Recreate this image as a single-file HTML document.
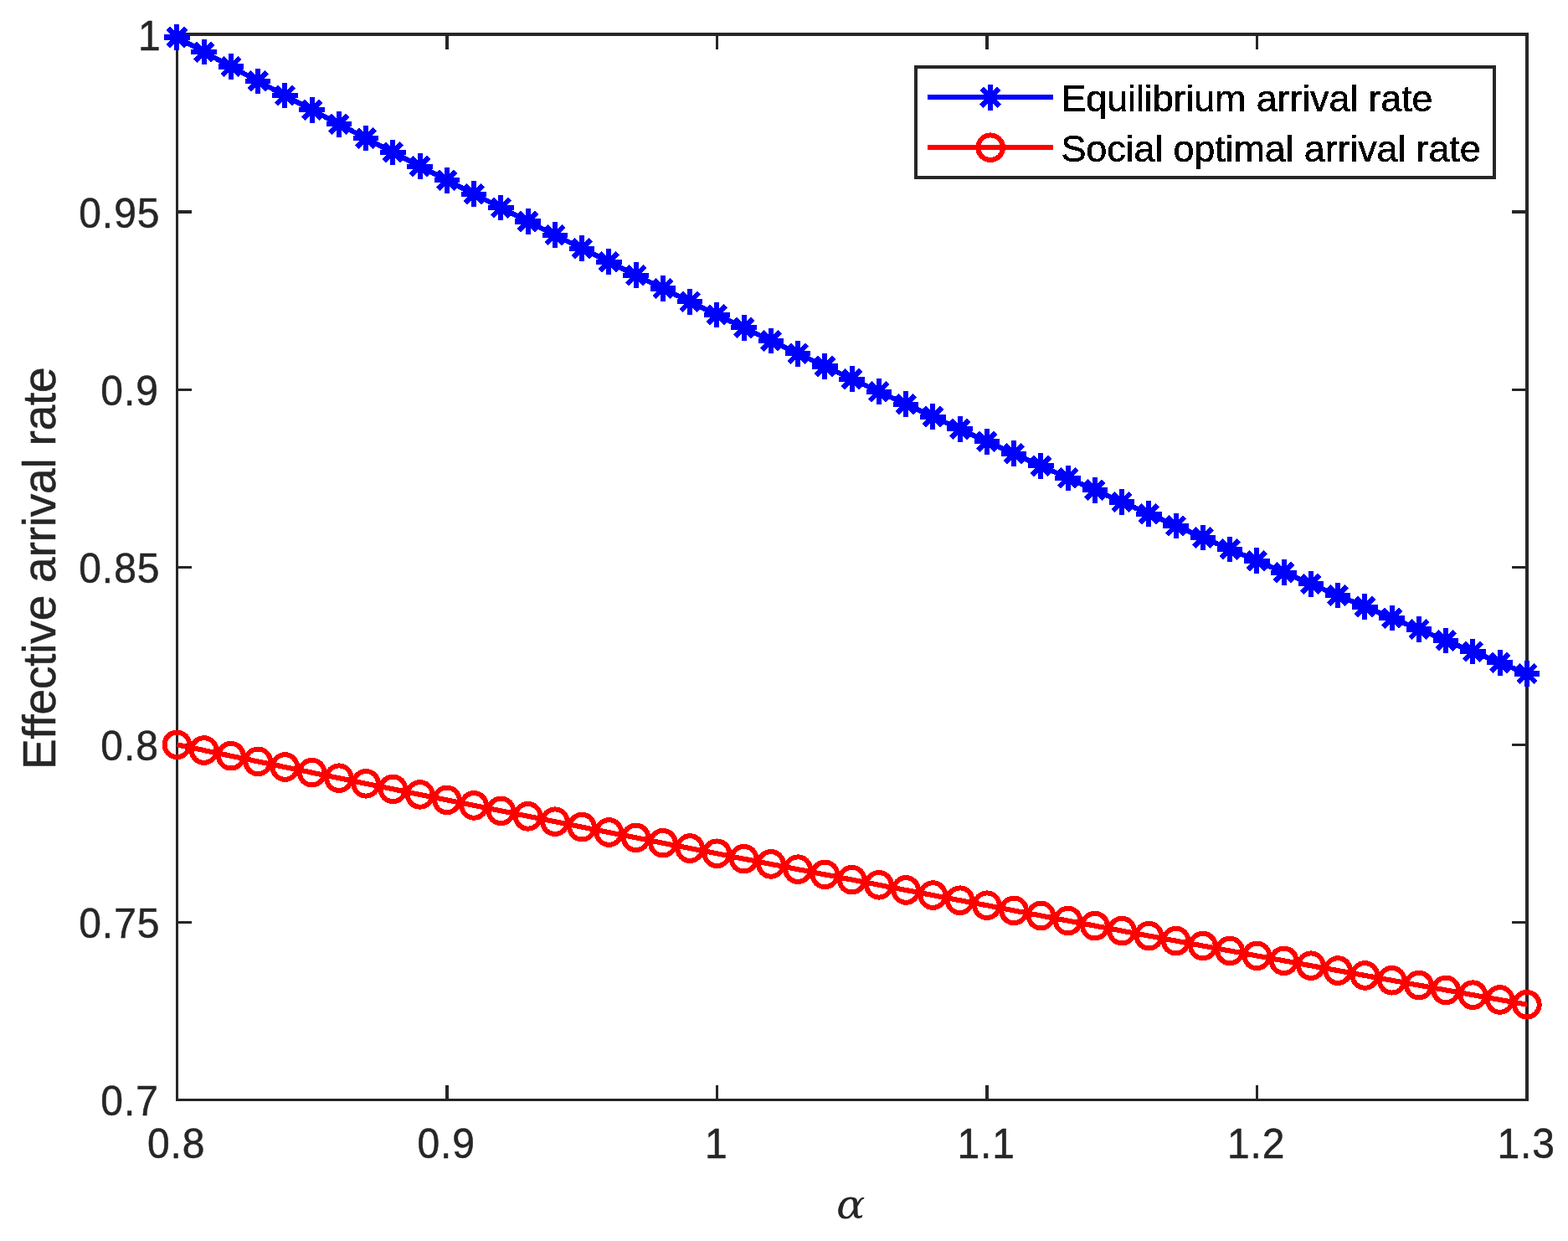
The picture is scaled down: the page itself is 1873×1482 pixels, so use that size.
<!DOCTYPE html>
<html lang="en">
<head>
<meta charset="utf-8">
<title>Effective arrival rate versus alpha</title>
<style>
html,body{margin:0;padding:0;background:#fff;}
body{width:1873px;height:1482px;overflow:hidden;}
svg{display:block;}
.t{font-family:"Liberation Sans",sans-serif;fill:#262626;}
.tk{font-size:50px;letter-spacing:1px;stroke:#262626;stroke-width:0.5;}
.lb{font-size:55px;letter-spacing:-0.2px;stroke:#262626;stroke-width:0.5;}
.lg{font-size:45px;fill:#000;letter-spacing:-0.155px;}
.al{font-family:"DejaVu Serif","Liberation Serif",serif;font-style:italic;font-size:47.6px;fill:#262626;}
.ax{fill:#262626;}
.b{stroke:#0000ff;fill:none;stroke-width:6.1;}
.r{stroke:#ff0000;fill:none;stroke-width:6.1;}
</style>
</head>
<body>
<svg width="1873" height="1482" viewBox="0 0 1873 1482">
<rect width="1873" height="1482" fill="#ffffff"/>
<defs>
<path id="a" class="b" d="M0 -15.3 V15.3 M-15.3 0 H15.3 M-10.61 -10.61 L10.61 10.61 M-10.61 10.61 L10.61 -10.61"/>
<circle id="c" r="14.8" fill="none" stroke="#ff0000" stroke-width="6"/>
<filter id="bw" x="-2%" y="-20%" width="104%" height="140%" color-interpolation-filters="sRGB"><feComponentTransfer><feFuncA type="discrete" tableValues="0 1 1 1 1"/></feComponentTransfer></filter>
</defs>
<g class="ax" shape-rendering="crispEdges">
<rect x="210" y="39" width="3" height="1276"/>
<rect x="1822" y="39" width="4" height="1276"/>
<rect x="210" y="39" width="1616" height="4"/>
<rect x="210" y="1312" width="1616" height="3"/>
<rect x="532" y="1296" width="4" height="16"/>
<rect x="532" y="43" width="4" height="16"/>
<rect x="855" y="1296" width="3" height="16"/>
<rect x="855" y="43" width="3" height="16"/>
<rect x="1177" y="1296" width="4" height="16"/>
<rect x="1177" y="43" width="4" height="16"/>
<rect x="1500" y="1296" width="3" height="16"/>
<rect x="1500" y="43" width="3" height="16"/>
<rect x="213" y="251" width="16" height="4"/>
<rect x="1806" y="251" width="16" height="4"/>
<rect x="213" y="464" width="16" height="3"/>
<rect x="1806" y="464" width="16" height="3"/>
<rect x="213" y="676" width="16" height="3"/>
<rect x="1806" y="676" width="16" height="3"/>
<rect x="213" y="888" width="16" height="3"/>
<rect x="1806" y="888" width="16" height="3"/>
<rect x="213" y="1100" width="16" height="3"/>
<rect x="1806" y="1100" width="16" height="3"/>
</g>
<g class="t tk" text-anchor="middle">
<text transform="translate(210.7 1382.7) scale(0.96 1)">0.8</text>
<text transform="translate(533.2 1382.7) scale(0.96 1)">0.9</text>
<text transform="translate(855.7 1382.7) scale(0.96 1)">1</text>
<text transform="translate(1178.2 1382.7) scale(0.96 1)">1.1</text>
<text transform="translate(1500.7 1382.7) scale(0.96 1)">1.2</text>
<text transform="translate(1823.2 1382.7) scale(0.96 1)">1.3</text>
</g>
<g class="t tk" text-anchor="end">
<text transform="translate(192.55 59.9) scale(0.96 1)">1</text>
<text transform="translate(191.45 271.9) scale(0.96 1)">0.95</text>
<text transform="translate(189.85 484) scale(0.96 1)">0.9</text>
<text transform="translate(191.45 696) scale(0.96 1)">0.85</text>
<text transform="translate(189.85 908) scale(0.96 1)">0.8</text>
<text transform="translate(191.45 1120) scale(0.96 1)">0.75</text>
<text transform="translate(189.85 1332) scale(0.96 1)">0.7</text>
</g>
<text class="t lb" text-anchor="middle" transform="translate(66 678.8) rotate(-90)">Effective arrival rate</text>
<text class="al" text-anchor="middle" transform="translate(1016.3 1455.2) scale(1.07 1)">α</text>
<g shape-rendering="crispEdges">
<polyline class="b" stroke-linejoin="round" points="211.4,44.53 243.65,62.07 275.9,79.51 308.15,96.84 340.4,114.06 372.65,131.25 404.9,148.26 437.15,165.11 469.4,181.92 501.65,198.63 533.9,215.23 566.15,231.74 598.4,248.14 630.65,264.45 662.9,280.66 695.15,296.77 727.4,312.78 759.65,328.69 791.9,344.51 824.15,360.24 856.4,375.87 888.65,391.41 920.9,406.85 953.15,422.21 985.4,437.47 1017.65,452.64 1049.9,467.72 1082.15,482.71 1114.4,497.62 1146.65,512.43 1178.9,527.26 1211.15,541.8 1243.4,556.36 1275.65,570.83 1307.9,585.21 1340.15,599.52 1372.4,613.74 1404.65,627.88 1436.9,641.93 1469.15,655.91 1501.4,669.74 1533.65,683.62 1565.9,697.36 1598.15,711.02 1630.4,724.6 1662.65,738.11 1694.9,751.54 1727.15,764.9 1759.4,778.18 1791.65,791.39 1823.9,804.52"/>
<g><use href="#a" x="211.4" y="44.53"/><use href="#a" x="243.65" y="62.07"/><use href="#a" x="275.9" y="79.51"/><use href="#a" x="308.15" y="96.84"/><use href="#a" x="340.4" y="114.06"/><use href="#a" x="372.65" y="131.25"/><use href="#a" x="404.9" y="148.26"/><use href="#a" x="437.15" y="165.11"/><use href="#a" x="469.4" y="181.92"/><use href="#a" x="501.65" y="198.63"/><use href="#a" x="533.9" y="215.23"/><use href="#a" x="566.15" y="231.74"/><use href="#a" x="598.4" y="248.14"/><use href="#a" x="630.65" y="264.45"/><use href="#a" x="662.9" y="280.66"/><use href="#a" x="695.15" y="296.77"/><use href="#a" x="727.4" y="312.78"/><use href="#a" x="759.65" y="328.69"/><use href="#a" x="791.9" y="344.51"/><use href="#a" x="824.15" y="360.24"/><use href="#a" x="856.4" y="375.87"/><use href="#a" x="888.65" y="391.41"/><use href="#a" x="920.9" y="406.85"/><use href="#a" x="953.15" y="422.21"/><use href="#a" x="985.4" y="437.47"/><use href="#a" x="1017.65" y="452.64"/><use href="#a" x="1049.9" y="467.72"/><use href="#a" x="1082.15" y="482.71"/><use href="#a" x="1114.4" y="497.62"/><use href="#a" x="1146.65" y="512.43"/><use href="#a" x="1178.9" y="527.26"/><use href="#a" x="1211.15" y="541.8"/><use href="#a" x="1243.4" y="556.36"/><use href="#a" x="1275.65" y="570.83"/><use href="#a" x="1307.9" y="585.21"/><use href="#a" x="1340.15" y="599.52"/><use href="#a" x="1372.4" y="613.74"/><use href="#a" x="1404.65" y="627.88"/><use href="#a" x="1436.9" y="641.93"/><use href="#a" x="1469.15" y="655.91"/><use href="#a" x="1501.4" y="669.74"/><use href="#a" x="1533.65" y="683.62"/><use href="#a" x="1565.9" y="697.36"/><use href="#a" x="1598.15" y="711.02"/><use href="#a" x="1630.4" y="724.6"/><use href="#a" x="1662.65" y="738.11"/><use href="#a" x="1694.9" y="751.54"/><use href="#a" x="1727.15" y="764.9"/><use href="#a" x="1759.4" y="778.18"/><use href="#a" x="1791.65" y="791.39"/><use href="#a" x="1823.9" y="804.52"/></g>
<polyline class="r" stroke-linejoin="round" points="211.4,889.33 243.65,896.04 275.9,902.72 308.15,909.38 340.4,916.02 372.65,922.63 404.9,929.23 437.15,935.8 469.4,942.36 501.65,948.89 533.9,955.4 566.15,961.89 598.4,968.36 630.65,974.81 662.9,981.23 695.15,987.64 727.4,994.03 759.65,1000.39 791.9,1006.74 824.15,1013.06 856.4,1019.24 888.65,1025.66 920.9,1031.92 953.15,1038.17 985.4,1044.39 1017.65,1050.6 1049.9,1056.79 1082.15,1062.96 1114.4,1069.1 1146.65,1075.23 1178.9,1081.24 1211.15,1087.43 1243.4,1093.51 1275.65,1099.56 1307.9,1105.6 1340.15,1111.61 1372.4,1117.61 1404.65,1123.59 1436.9,1129.55 1469.15,1135.49 1501.4,1141.42 1533.65,1147.32 1565.9,1153.21 1598.15,1159.08 1630.4,1164.94 1662.65,1170.77 1694.9,1176.59 1727.15,1182.39 1759.4,1188.18 1791.65,1193.94 1823.9,1199.69"/>
<g><use href="#c" x="211.4" y="889.33"/><use href="#c" x="243.65" y="896.04"/><use href="#c" x="275.9" y="902.72"/><use href="#c" x="308.15" y="909.38"/><use href="#c" x="340.4" y="916.02"/><use href="#c" x="372.65" y="922.63"/><use href="#c" x="404.9" y="929.23"/><use href="#c" x="437.15" y="935.8"/><use href="#c" x="469.4" y="942.36"/><use href="#c" x="501.65" y="948.89"/><use href="#c" x="533.9" y="955.4"/><use href="#c" x="566.15" y="961.89"/><use href="#c" x="598.4" y="968.36"/><use href="#c" x="630.65" y="974.81"/><use href="#c" x="662.9" y="981.23"/><use href="#c" x="695.15" y="987.64"/><use href="#c" x="727.4" y="994.03"/><use href="#c" x="759.65" y="1000.39"/><use href="#c" x="791.9" y="1006.74"/><use href="#c" x="824.15" y="1013.06"/><use href="#c" x="856.4" y="1019.24"/><use href="#c" x="888.65" y="1025.66"/><use href="#c" x="920.9" y="1031.92"/><use href="#c" x="953.15" y="1038.17"/><use href="#c" x="985.4" y="1044.39"/><use href="#c" x="1017.65" y="1050.6"/><use href="#c" x="1049.9" y="1056.79"/><use href="#c" x="1082.15" y="1062.96"/><use href="#c" x="1114.4" y="1069.1"/><use href="#c" x="1146.65" y="1075.23"/><use href="#c" x="1178.9" y="1081.24"/><use href="#c" x="1211.15" y="1087.43"/><use href="#c" x="1243.4" y="1093.51"/><use href="#c" x="1275.65" y="1099.56"/><use href="#c" x="1307.9" y="1105.6"/><use href="#c" x="1340.15" y="1111.61"/><use href="#c" x="1372.4" y="1117.61"/><use href="#c" x="1404.65" y="1123.59"/><use href="#c" x="1436.9" y="1129.55"/><use href="#c" x="1469.15" y="1135.49"/><use href="#c" x="1501.4" y="1141.42"/><use href="#c" x="1533.65" y="1147.32"/><use href="#c" x="1565.9" y="1153.21"/><use href="#c" x="1598.15" y="1159.08"/><use href="#c" x="1630.4" y="1164.94"/><use href="#c" x="1662.65" y="1170.77"/><use href="#c" x="1694.9" y="1176.59"/><use href="#c" x="1727.15" y="1182.39"/><use href="#c" x="1759.4" y="1188.18"/><use href="#c" x="1791.65" y="1193.94"/><use href="#c" x="1823.9" y="1199.69"/></g>
</g>
<g shape-rendering="crispEdges">
<rect x="1092" y="78" width="695" height="136" fill="#262626"/>
<rect x="1096" y="82" width="687" height="128" fill="#ffffff"/>
<path class="b" d="M1108 116.3 H1258"/><use href="#a" x="1183" y="116.3"/>
<path class="r" d="M1108 176.2 H1258"/><use href="#c" x="1183.15" y="176.2"/>
</g>
<g class="t lg" filter="url(#bw)">
<text x="1267.5" y="133">Equilibrium arrival rate</text>
<text x="1267.5" y="193">Social optimal arrival rate</text>
</g>
</svg>
</body>
</html>
